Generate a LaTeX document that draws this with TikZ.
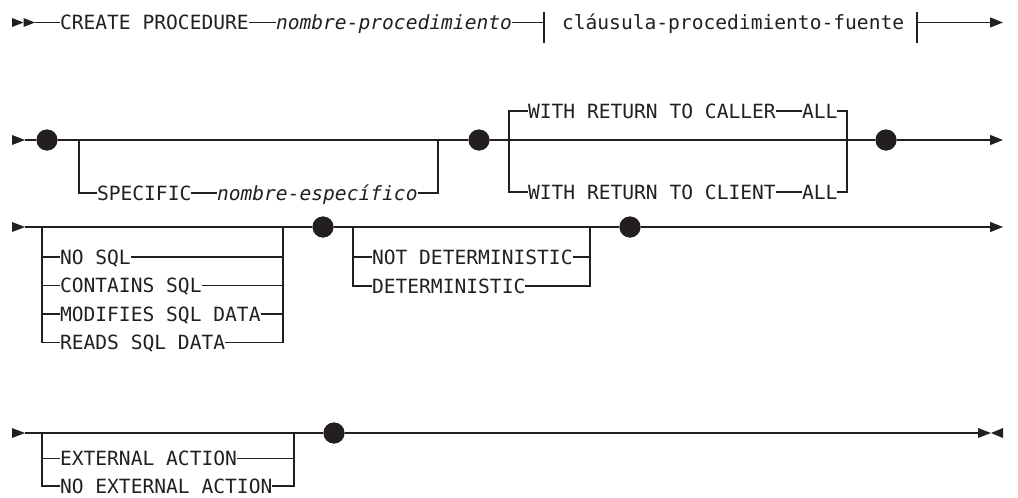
\documentclass[tikz,border=0pt]{standalone}
\usepackage{fontspec}
\newfontfamily\rr{DejaVu Sans Mono}
\usetikzlibrary{arrows.meta}
\definecolor{ink}{RGB}{35,31,32}
\tikzset{
  rail/.style={line width=1.3pt, draw=ink},
  lbl/.style={inner sep=0pt, outer sep=0pt, anchor=west, text height=14.3pt, text depth=0pt, text=ink, font=\rr\fontsize{19.6pt}{22pt}\selectfont},
  ilbl/.style={lbl, font=\rr\itshape\fontsize{19.6pt}{22pt}\selectfont},
  jn/.style={circle, fill=ink, inner sep=0pt, minimum size=21pt},
  endtip/.style={-{Triangle[length=13pt,width=10pt]}}
}
\begin{document}
\begin{tikzpicture}[x=1pt,y=-1pt]
\useasboundingbox (0,0) rectangle (1018,498);

% ---------- row 1 ----------
\coordinate (r1a) at (35,22.5);
\fill[ink] (12,18) -- (23.5,22.5) -- (12,27) -- cycle;
\fill[ink] (23.5,18) -- (35,22.5) -- (23.5,27) -- cycle;
\node[lbl] (create) at (60,22.5) {CREATE PROCEDURE};
\node[ilbl] (nproc) at (276,22.5) {nombre-procedimiento};
\coordinate (fl) at (544,22.5);
\node[lbl] (frag) at (562,22.5) {cláusula-procedimiento-fuente};
\coordinate (fr) at (917,22.5);
\coordinate (r1e) at (1003,22.5);
\draw[rail] (r1a) -- (create.west);
\draw[rail] (create.east) -- (nproc.west);
\draw[rail] (nproc.east) -- (fl);
\draw[rail] (544,12) -- (544,43);
\draw[rail] (917,12) -- (917,43);
\draw[rail,endtip] (fr) -- (r1e);

% ---------- row 2 ----------
\coordinate (r2s) at (25,140);
\fill[ink] (12,135) -- (25,140) -- (12,145) -- cycle;
\coordinate (r2e) at (1003,140);
\node[jn] (d21) at (47,140) {};
\node[jn] (d22) at (479,140) {};
\node[jn] (d23) at (886,140) {};
\coordinate (sl) at (79,140);
\coordinate (sr) at (438,140);
\node[lbl] (spec) at (97,193) {SPECIFIC};
\node[ilbl] (nesp) at (217,193) {nombre-específico};
\coordinate (wl) at (509,140);
\coordinate (wr) at (847,140);
\node[lbl] (caller) at (528,111) {WITH RETURN TO CALLER};
\node[lbl] (all1) at (802,111) {ALL};
\node[lbl] (client) at (528,192) {WITH RETURN TO CLIENT};
\node[lbl] (all2) at (802,192) {ALL};
\draw[rail] (r2s) -- (d21) -- (d22) -- (d23);
\draw[rail,endtip] (d23) -- (r2e);
\draw[rail] (sl) |- (spec.west);
\draw[rail] (spec.east) -- (nesp.west);
\draw[rail] (nesp.east) -| (sr);
\draw[rail] (caller.west) -| (wl) |- (client.west);
\draw[rail] (caller.east) -- (all1.west);
\draw[rail] (client.east) -- (all2.west);
\draw[rail] (all1.east) -| (wr) |- (all2.east);
\node[jn] at (d21) {};
\node[jn] at (d22) {};
\node[jn] at (d23) {};

% ---------- row 3 ----------
\coordinate (r3s) at (25,227);
\fill[ink] (12,222) -- (25,227) -- (12,232) -- cycle;
\coordinate (r3e) at (1003,227);
\node[jn] (d31) at (323,227) {};
\node[jn] (d32) at (630,227) {};
\coordinate (g1l) at (42,227);
\coordinate (g1r) at (283,227);
\node[lbl] (nosql) at (60,257) {NO SQL};
\node[lbl] (contains) at (60,285.5) {CONTAINS SQL};
\node[lbl] (modifies) at (60,314) {MODIFIES SQL DATA};
\node[lbl] (reads) at (60,342.5) {READS SQL DATA};
\coordinate (g2l) at (353,227);
\coordinate (g2r) at (590,227);
\node[lbl] (notdet) at (372,257) {NOT DETERMINISTIC};
\node[lbl] (det) at (372,286) {DETERMINISTIC};
\draw[rail] (r3s) -- (d31) -- (d32);
\draw[rail,endtip] (d32) -- (r3e);
\draw[rail] (g1l) |- (reads.west);
\draw[rail] (nosql.west -| g1l) -- (nosql.west);
\draw[rail] (contains.west -| g1l) -- (contains.west);
\draw[rail] (modifies.west -| g1l) -- (modifies.west);
\draw[rail] (reads.east) -| (g1r);
\draw[rail] (nosql.east) -- (nosql.east -| g1r);
\draw[rail] (contains.east) -- (contains.east -| g1r);
\draw[rail] (modifies.east) -- (modifies.east -| g1r);
\draw[rail] (g2l) |- (det.west);
\draw[rail] (notdet.west -| g2l) -- (notdet.west);
\draw[rail] (det.east) -| (g2r);
\draw[rail] (notdet.east) -- (notdet.east -| g2r);
\node[jn] at (d31) {};
\node[jn] at (d32) {};

% ---------- row 4 ----------
\coordinate (r4s) at (25,433);
\fill[ink] (12,428) -- (25,433) -- (12,438) -- cycle;
\coordinate (r4e) at (978,433);
\node[jn] (d41) at (334,433) {};
\coordinate (g3l) at (42,433);
\coordinate (g3r) at (294,433);
\node[lbl] (ext) at (60,458.5) {EXTERNAL ACTION};
\node[lbl] (noext) at (60,486) {NO EXTERNAL ACTION};
\draw[rail] (r4s) -- (d41) -- (r4e);
\draw[rail] (g3l) |- (noext.west);
\draw[rail] (ext.west -| g3l) -- (ext.west);
\draw[rail] (noext.east) -| (g3r);
\draw[rail] (ext.east) -- (ext.east -| g3r);
\fill[ink] (978,428) -- (991,433) -- (978,438) -- cycle;
\fill[ink] (1003,428) -- (991,433) -- (1003,438) -- cycle;
\node[jn] at (d41) {};
\end{tikzpicture}
\end{document}
